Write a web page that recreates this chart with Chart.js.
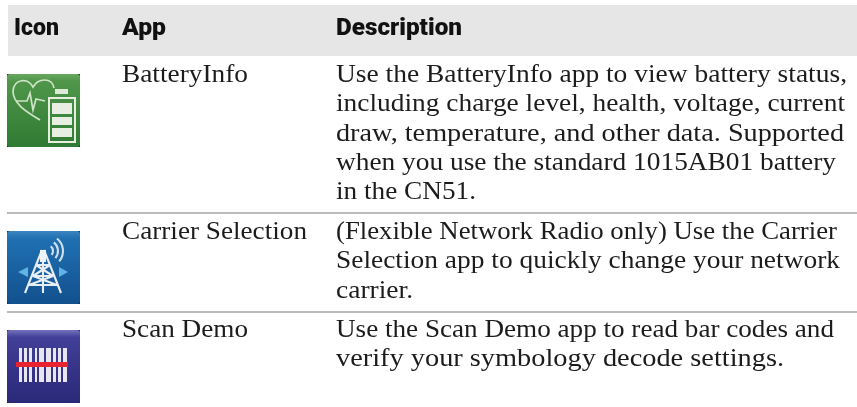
<!DOCTYPE html>
<html>
<head>
<meta charset="utf-8">
<style>
  html, body { margin: 0; padding: 0; background: #fff; }
  canvas { display: block; }
</style>
<script src="https://cdn.jsdelivr.net/npm/chart.js@4/dist/chart.umd.min.js"></script>
</head>
<body>
<canvas id="myChart" width="857" height="407"></canvas>
<script>
const headers = ['Icon', 'App', 'Description'];
const apps = ['BatteryInfo', 'Carrier Selection', 'Scan Demo'];
const descriptions = [
  ['Use the BatteryInfo app to view battery status,',
   'including charge level, health, voltage, current',
   'draw, temperature, and other data. Supported',
   'when you use the standard 1015AB01 battery',
   'in the CN51.'],
  ['(Flexible Network Radio only) Use the Carrier',
   'Selection app to quickly change your network',
   'carrier.'],
  ['Use the Scan Demo app to read bar codes and',
   'verify your symbology decode settings.']
];

// table layout, in page pixels (the axes run 0-857 and 0-407)
const columnX = [14, 122, 336];
const headerBaseline = 35;
const firstBaselines = [82, 239, 337];
const iconTops = [74, 231, 330];
const ruleRows = [213, 312];
const lineHeight = 29.3;
const bodyFont = '26px "Liberation Serif"';
const headFont = '900 23px Roboto';
// right edge of each text run, the serif in the picture is wider than ours
const headerEnds = [59, 166, 462];
const appEnds = [248, 307, 248];
const lineEnds = [[847, 845, 844, 836, 476], [837, 840, 413], [834, 784]];

// draw text stretched sideways so it ends at the given pixel
function fitText(ctx, text, left, right, baseline) {
  const w = ctx.measureText(text).width;
  ctx.save();
  ctx.translate(left, baseline);
  ctx.scale((right - left) / w, 1);
  ctx.fillText(text, 0, 0);
  ctx.restore();
}

function rounded(ctx, c1, c2, c3) {
  ctx.fillStyle = '#2a2a2a';
  ctx.fillRect(0, 0, 73, 73);
  const g = ctx.createLinearGradient(0, 0, 0, 73);
  g.addColorStop(0, c1);
  g.addColorStop(0.1, c2);
  g.addColorStop(1, c3);
  ctx.fillStyle = g;
  ctx.beginPath();
  ctx.roundRect(0, 0, 73, 73, 3);
  ctx.fill();
}

function batteryIcon(ctx) {
  rounded(ctx, '#6aa860', '#4f9649', '#2f7a34');
  ctx.strokeStyle = '#cfe3c6';
  ctx.lineWidth = 1.7;
  ctx.beginPath();
  ctx.moveTo(33, 46);
  ctx.bezierCurveTo(20, 38, 6, 30, 6, 17);
  ctx.bezierCurveTo(7, 5, 21, 3, 26, 13);
  ctx.bezierCurveTo(31, 4, 45, 3, 47, 14);
  ctx.stroke();
  ctx.beginPath();
  ctx.moveTo(9, 27);
  ctx.lineTo(20, 27);
  ctx.lineTo(23, 19);
  ctx.lineTo(26, 36);
  ctx.lineTo(29, 25);
  ctx.lineTo(38, 27);
  ctx.stroke();
  ctx.fillStyle = '#dfe9d8';
  ctx.fillRect(48, 15, 13, 5);
  ctx.lineWidth = 2;
  ctx.strokeStyle = '#e6eedf';
  ctx.strokeRect(42, 24, 26, 44);
  ctx.fillStyle = '#e8efe2';
  ctx.fillRect(45, 29, 20, 11);
  ctx.fillRect(45, 43, 20, 8);
  ctx.fillRect(45, 54, 20, 9);
}

function towerIcon(ctx) {
  rounded(ctx, '#3c86c2', '#2070b2', '#12508e');
  ctx.strokeStyle = '#e6edf4';
  ctx.lineWidth = 2.1;
  ctx.beginPath();
  ctx.moveTo(35, 19);
  ctx.lineTo(18, 62);
  ctx.moveTo(37, 19);
  ctx.lineTo(54, 62);
  ctx.moveTo(29, 34);
  ctx.lineTo(43, 34);
  ctx.moveTo(26, 45);
  ctx.lineTo(46, 45);
  ctx.moveTo(22, 54);
  ctx.lineTo(50, 54);
  ctx.moveTo(29, 34);
  ctx.lineTo(46, 45);
  ctx.moveTo(43, 34);
  ctx.lineTo(26, 45);
  ctx.moveTo(26, 45);
  ctx.lineTo(50, 54);
  ctx.moveTo(46, 45);
  ctx.lineTo(22, 54);
  ctx.moveTo(36, 30);
  ctx.lineTo(36, 62);
  ctx.stroke();
  ctx.fillStyle = '#eef3f8';
  ctx.fillRect(33, 19, 6, 12);
  ctx.strokeStyle = '#cfdfee';
  [6, 11, 16].forEach(r => {
    ctx.beginPath();
    ctx.arc(40, 20, r, -0.9, 0.7);
    ctx.stroke();
  });
  ctx.fillStyle = '#5fb4e2';
  ctx.beginPath();
  ctx.moveTo(11, 41); ctx.lineTo(21, 36); ctx.lineTo(21, 46); ctx.closePath();
  ctx.moveTo(61, 41); ctx.lineTo(52, 36); ctx.lineTo(52, 46); ctx.closePath();
  ctx.fill();
}

function scanIcon(ctx) {
  rounded(ctx, '#7472bc', '#423f98', '#2a2878');
  ctx.fillStyle = '#e6e5f0';
  [[12, 3], [17, 3], [22, 3], [28, 2], [32, 5], [39, 5], [46, 3], [51, 3], [56, 4]].forEach(b => {
    ctx.fillRect(b[0], 18, b[1], 34);
  });
  ctx.fillStyle = '#e8222e';
  ctx.fillRect(9, 32, 52, 5);
}

const icons = [batteryIcon, towerIcon, scanIcon];

const tablePlugin = {
  id: 'tablePlugin',
  beforeDatasetsDraw: (chart) => {
    const { ctx, scales: { x, y } } = chart;
    ctx.save();
    ctx.fillStyle = '#e6e6e6';
    ctx.fillRect(x.getPixelForValue(8), y.getPixelForValue(5), x.getPixelForValue(857) - x.getPixelForValue(8), y.getPixelForValue(56) - y.getPixelForValue(5));
    ctx.restore();
  },
  afterDatasetsDraw: (chart) => {
    const { ctx, scales: { x, y } } = chart;
    ctx.save();
    ctx.textBaseline = 'alphabetic';
    ctx.font = headFont;
    ctx.fillStyle = '#111';
    headers.forEach((h, i) => {
      fitText(ctx, h, x.getPixelForValue(columnX[i]), x.getPixelForValue(headerEnds[i]), y.getPixelForValue(headerBaseline));
    });

    ctx.font = bodyFont;
    ctx.fillStyle = '#1c1c1c';
    apps.forEach((a, i) => {
      fitText(ctx, a, x.getPixelForValue(columnX[1]), x.getPixelForValue(appEnds[i]), y.getPixelForValue(firstBaselines[i]));
      descriptions[i].forEach((line, j) => {
        fitText(ctx, line, x.getPixelForValue(columnX[2]), x.getPixelForValue(lineEnds[i][j]), y.getPixelForValue(firstBaselines[i] + j * lineHeight));
      });
    });

    icons.forEach((draw, i) => {
      ctx.save();
      ctx.translate(x.getPixelForValue(7), y.getPixelForValue(iconTops[i]));
      ctx.filter = 'blur(0.7px)';
      draw(ctx);
      ctx.restore();
    });
    ctx.restore();
  }
};

const ruleData = ruleRows.map(r => [{ x: 7, y: r }, { x: 857, y: r }]);

const config = {
  type: 'scatter',
  data: {
    datasets: ruleData.map(d => ({
      data: d,
      showLine: true,
      borderColor: '#bbbbbb',
      borderWidth: 2,
      pointRadius: 0
    }))
  },
  options: {
    responsive: false,
    animation: false,
    layout: { padding: 0 },
    scales: {
      x: { type: 'linear', min: 0, max: 857, display: false },
      y: { type: 'linear', min: 0, max: 407, reverse: true, display: false }
    },
    plugins: {
      legend: { display: false },
      title: { display: false },
      tooltip: { enabled: false }
    }
  },
  plugins: [tablePlugin]
};

new Chart(document.getElementById('myChart'), config);
</script>
</body>
</html>
